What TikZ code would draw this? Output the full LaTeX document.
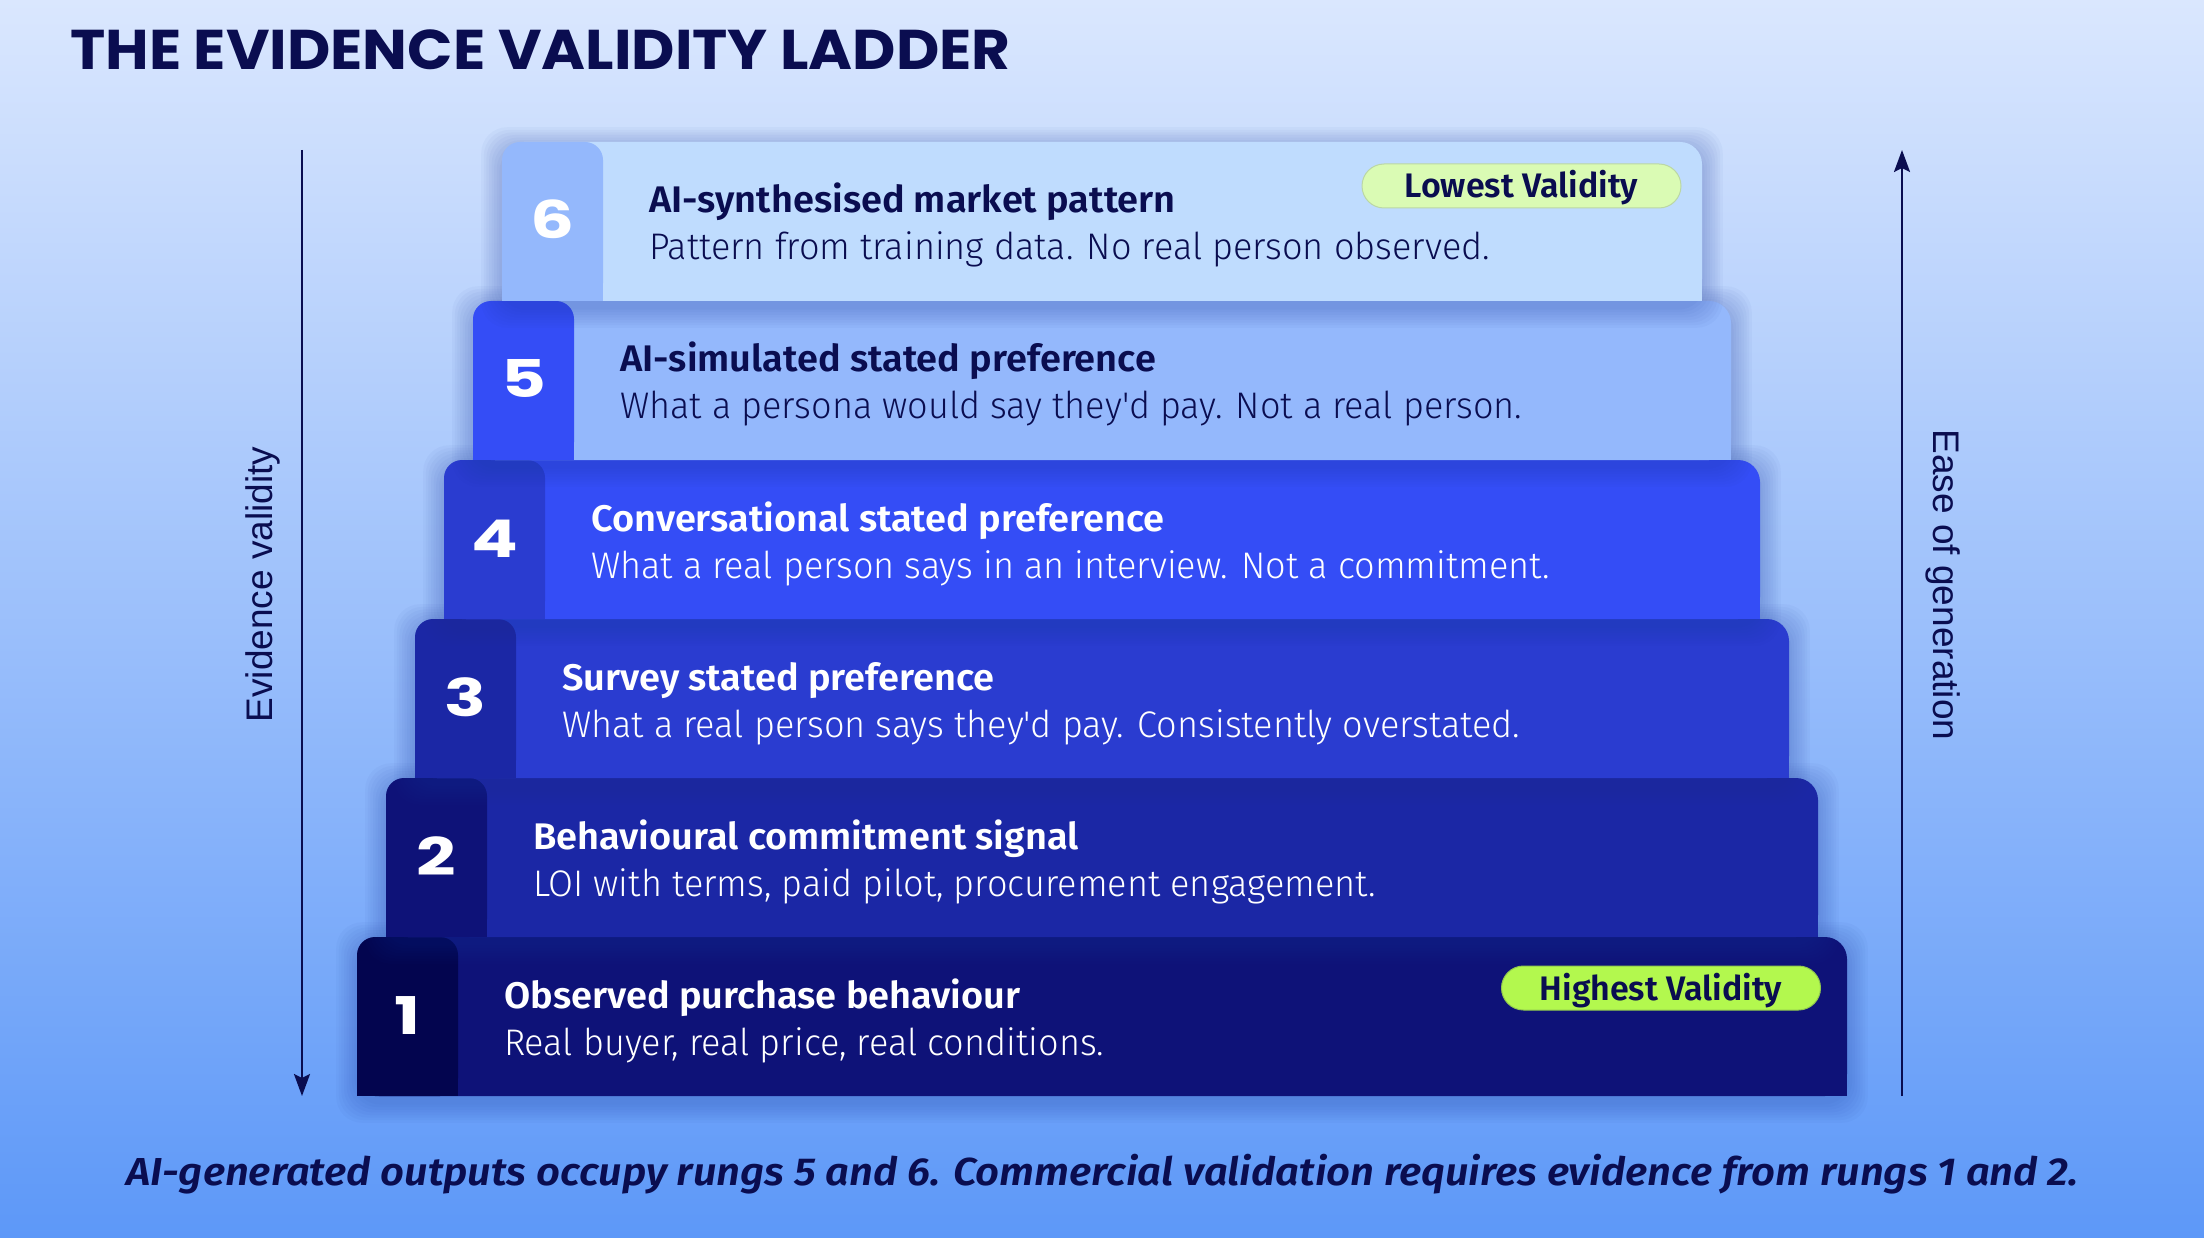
\documentclass[tikz,border=0pt]{standalone}
\usepackage{fontspec}
\usetikzlibrary{arrows.meta}
\newfontfamily\titlefont{Poppins}[FakeStretch=1.065]
\newfontfamily\numfont{Poppins}[FakeStretch=1.33]
\newfontfamily\headfont{Fira Sans}[UprightFont=* SemiBold, FakeStretch=1.025]
\newfontfamily\subfont{Fira Sans}[UprightFont=* Light, FakeStretch=0.975]
\newfontfamily\pillfont{Fira Sans}[UprightFont=* SemiBold]
\newfontfamily\footfont{Fira Sans}[UprightFont=* SemiBold Italic, FakeStretch=1.07]
\newfontfamily\axisfont{Liberation Sans}
\definecolor{navy}{HTML}{0A0D50}
\definecolor{bgtop}{HTML}{DAE7FE}
\definecolor{bgmid}{HTML}{A8C6FB}
\definecolor{bgbot}{HTML}{5D98F8}
\definecolor{boxA}{HTML}{0E1278}
\definecolor{boxB}{HTML}{1B27A5}
\definecolor{boxC}{HTML}{2A3CD0}
\definecolor{boxD}{HTML}{344DF6}
\definecolor{boxE}{HTML}{94B8FC}
\definecolor{boxF}{HTML}{BFDCFE}
\definecolor{tabA}{HTML}{03054F}
\definecolor{limeLow}{HTML}{DAFBB4}
\definecolor{limeHigh}{HTML}{B3F84E}
\definecolor{shadowblue}{HTML}{1E3A9E}
\tikzset{
  shadowlayer/.style={fill=shadowblue, fill opacity=0.035, rounded corners=26pt},
  rtitle/.style={anchor=base west, inner sep=0pt, font=\headfont\fontsize{37}{44}\selectfont},
  rsub/.style={anchor=base west, inner sep=0pt, font=\subfont\fontsize{37}{44}\selectfont},
  rnum/.style={anchor=base, inner sep=0pt, text=white, font=\numfont\bfseries\fontsize{52}{60}\selectfont},
  pill/.style={rectangle, rounded corners=22pt, minimum width=319pt, minimum height=44pt, inner sep=0pt},
  pilltext/.style={anchor=base, inner sep=0pt, text=navy, font=\pillfont\fontsize{34}{40}\selectfont},
  axislabel/.style={anchor=base, inner sep=0pt, text=navy, font=\axisfont\fontsize{37}{44}\selectfont},
  axisarrow/.style={draw=navy, line width=2.5pt, -{Stealth[length=22pt, width=16pt, inset=4pt]}}
}
% #1 number, #2 left, #3 top, #4 right, #5 box colour, #6 tab colour, #7 text colour, #8 title, #9 subtitle
\newcommand\rungdraw[9]{%
  \foreach \k in {1,...,8}{%
    \fill[shadowlayer] (#2-\k*2.6,#3+6-\k*2.6) rectangle (#4+\k*2.6,#3+165+\k*2.6);
  }
  \fill[#5, rounded corners=22pt] (#2,#3) rectangle (#4,#3+159);
  \fill[#5] (#2,#3+120) rectangle (#4,#3+159);
  \fill[#6, rounded corners=18pt] (#2,#3) rectangle (#2+101,#3+159);
  \fill[#6] (#2,#3+120) rectangle (#2+101,#3+159);
  \node[rnum] (n#1) at (#2+50.5,#3+97) {#1};
  \node[rtitle, text=#7] (t#1) at (#2+147,#3+71) {#8};
  \node[rsub, text=#7] (s#1) at (#2+147,#3+118) {#9};
}
\begin{document}
\begin{tikzpicture}[x=1pt, y=-1pt]
\useasboundingbox (0,0) rectangle (2204,1238);
\shade[top color=bgtop, middle color=bgmid, bottom color=bgbot] (0,0) rectangle (2204,1238);

\node[anchor=base west, inner sep=0pt, text=navy, font=\titlefont\bfseries\fontsize{56}{64}\selectfont] (title) at (70,70) {THE EVIDENCE VALIDITY LADDER};

\rungdraw{1}{357}{937}{1847}{boxA}{tabA}{white}{Observed purchase behaviour}{Real buyer, real price, real conditions.}
\rungdraw{2}{386}{778}{1818}{boxB}{boxA}{white}{Behavioural commitment signal}{LOI with terms, paid pilot, procurement engagement.}
\rungdraw{3}{415}{619}{1789}{boxC}{boxB}{white}{Survey stated preference}{What a real person says they'd pay. Consistently overstated.}
\rungdraw{4}{444}{460}{1760}{boxD}{boxC}{white}{Conversational stated preference}{What a real person says in an interview. Not a commitment.}
\rungdraw{5}{473}{301}{1731}{boxE}{boxD}{navy}{AI-simulated stated preference}{What a persona would say they'd pay. Not a real person.}
\rungdraw{6}{502}{142}{1702}{boxF}{boxE}{navy}{AI-synthesised market pattern}{Pattern from training data. No real person observed.}

\node[pill, fill=limeLow, draw=limeLow!85!navy, line width=1pt] (lowpill) at (1521.5,186) {};
\node[pilltext] (lowtext) at (1521.5,198) {Lowest Validity};
\node[pill, fill=limeHigh, draw=limeHigh!80!navy, line width=1pt] (highpill) at (1661,988) {};
\node[pilltext] (hightext) at (1661,1000) {Highest Validity};

\coordinate (ltop) at (302,150);
\coordinate (lbot) at (302,1096);
\coordinate (rbot) at (1902,1096);
\coordinate (rtop) at (1902,150);
\draw[axisarrow] (ltop) -- (lbot);
\draw[axisarrow] (rbot) -- (rtop);
\node[axislabel, rotate=90] (evlabel) at (272,584.5) {Evidence validity};
\node[axislabel, rotate=-90] (ezlabel) at (1933,585) {Ease of generation};

\node[anchor=base, inner sep=0pt, text=navy, font=\footfont\fontsize{39}{46}\selectfont] (footer) at (1102.5,1185) {AI-generated outputs occupy rungs 5 and 6. Commercial validation requires evidence from rungs 1 and 2.};
\end{tikzpicture}
\end{document}
